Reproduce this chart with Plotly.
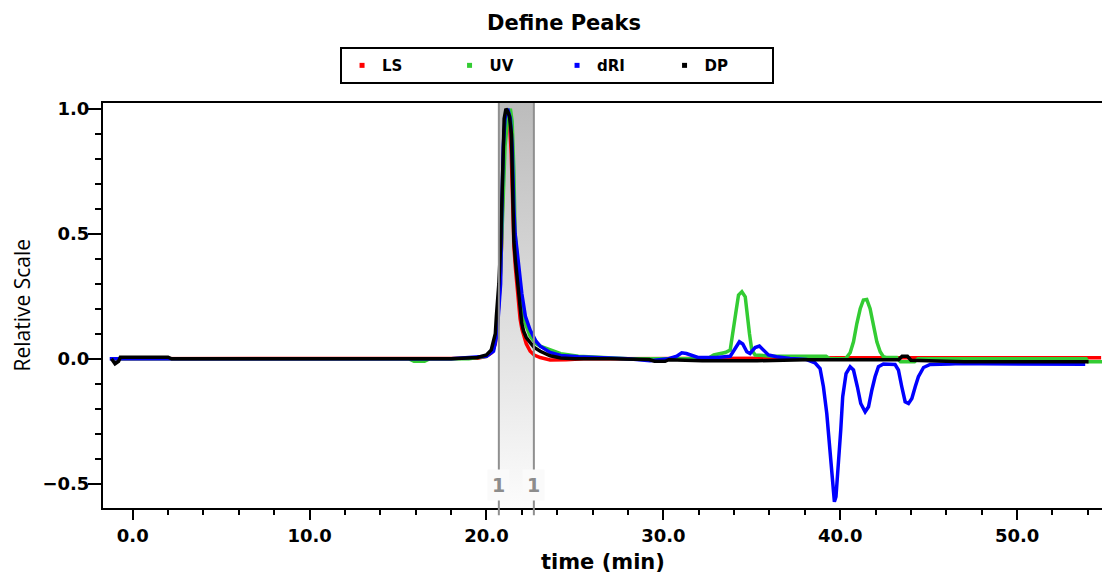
import plotly.graph_objects as go

# ---------------- data ----------------
ls_t = [-1.0, 2.0, 6.0, 10.0, 14.0, 18.0, 19.5, 20.0, 20.3, 20.5, 20.6, 20.75, 20.85, 20.93, 21.0,
        21.1, 21.2, 21.3, 21.4, 21.5, 21.55, 21.64, 21.8, 21.9, 22.0, 22.1, 22.25, 22.47, 22.7, 23.04,
        23.6, 24.5, 25.5, 27.0, 30.0, 33.0, 34.3, 36.0, 38.0, 40.0, 42.0, 44.0, 46.0, 48.0, 50.0, 52.0, 54.75]
ls_v = [0.0, 0.0, 0.0, 0.0, 0.0, 0.0, 0.002, 0.01, 0.025, 0.06, 0.12, 0.28, 0.45, 0.7, 0.9,
        0.98, 0.99, 0.95, 0.82, 0.58, 0.45, 0.36, 0.22, 0.16, 0.12, 0.09, 0.06, 0.03, 0.015, 0.005,
        -0.005, -0.004, 0.0, 0.0, 0.0, 0.0, 0.003, 0.003, 0.003, 0.004, 0.004, 0.004, 0.004, 0.004, 0.004, 0.004, 0.004]

uv_t = [-1.0, 4.0, 10.0, 15.6, 15.9, 16.5, 16.8, 19.0, 20.0, 20.4, 20.6, 20.8, 20.95, 21.05, 21.2,
        21.35, 21.45, 21.55, 21.62, 21.75, 21.9, 22.0, 22.2, 22.47, 22.8, 23.04, 23.6, 24.2, 25.2, 26.5,
        28.0, 30.0, 32.5, 32.85, 33.5, 33.78, 33.97, 34.12, 34.25, 34.44, 34.63, 34.72, 34.87, 35.0, 35.19,
        36.2, 39.2, 39.4, 40.3, 40.56, 40.75, 40.94, 41.13, 41.31, 41.5, 41.69, 41.88, 42.07, 42.26, 42.44,
        42.6, 43.2, 43.4, 44.2, 44.4, 47.0, 50.0, 53.9, 54.0, 54.8]
uv_v = [0.0, 0.0, 0.0, 0.0, -0.01, -0.01, 0.0, 0.0, 0.01, 0.04, 0.12, 0.35, 0.65, 0.85, 0.96,
        1.0, 0.95, 0.75, 0.5, 0.38, 0.27, 0.21, 0.14, 0.09, 0.06, 0.05, 0.034, 0.02, 0.01, 0.004,
        0.0, 0.0, 0.0, 0.015, 0.025, 0.035, 0.115, 0.195, 0.255, 0.268, 0.248, 0.18, 0.1, 0.035, 0.015,
        0.01, 0.01, 0.0, 0.0, 0.024, 0.068, 0.141, 0.2, 0.235, 0.237, 0.2, 0.128, 0.068, 0.028, 0.008,
        0.005, 0.005, -0.012, -0.012, 0.0, 0.0, 0.0, 0.0, -0.012, -0.012]

dri_t = [-1.3, 0.3, 5.0, 10.0, 12.8, 15.5, 18.0, 20.0, 20.4, 20.6, 20.8, 20.87, 20.95, 21.05, 21.2,
         21.35, 21.45, 21.55, 21.62, 21.75, 21.9, 22.0, 22.2, 22.47, 22.8, 23.04, 23.6, 24.2, 25.2, 26.5,
         28.0, 29.25, 30.3, 30.76, 31.04, 31.3, 31.68, 31.96, 33.0, 33.78, 34.06, 34.3, 34.49, 34.72, 34.9,
         35.19, 35.43, 35.66, 35.94, 36.4, 37.16, 38.1, 38.57, 38.86, 39.05, 39.24, 39.42, 39.57, 39.67, 39.76,
         39.9, 40.03, 40.14, 40.33, 40.56, 40.75, 40.97, 41.16, 41.41, 41.6, 41.79, 41.97, 42.16, 42.44, 43.1,
         43.29, 43.48, 43.67, 43.86, 44.05, 44.24, 44.42, 44.71, 45.08, 46.21, 46.78, 48.0, 50.0, 52.0, 53.85]
dri_v = [0.0, 0.0, 0.0, 0.0, 0.003, 0.003, 0.0, 0.01, 0.03, 0.1, 0.3, 0.6, 0.85, 0.96, 1.0,
         0.96, 0.85, 0.6, 0.5, 0.42, 0.32, 0.26, 0.17, 0.115, 0.07, 0.05, 0.025, 0.013, 0.008, 0.004,
         0.0, -0.008, 0.0, 0.01, 0.024, 0.021, 0.01, 0.005, 0.005, 0.01, 0.041, 0.068, 0.059, 0.028, 0.021,
         0.045, 0.051, 0.035, 0.015, 0.008, 0.001, -0.003, -0.016, -0.039, -0.112, -0.219, -0.352, -0.499, -0.572, -0.552,
         -0.432, -0.285, -0.152, -0.059, -0.032, -0.045, -0.112, -0.179, -0.212, -0.192, -0.125, -0.072, -0.032, -0.021, -0.023,
         -0.045, -0.112, -0.172, -0.179, -0.159, -0.112, -0.072, -0.035, -0.023, -0.021, -0.019, -0.02, -0.02, -0.022, -0.022]

dp_t = [-1.2, -1.0, -0.8, -0.7, 2.0, 2.2, 6.0, 10.0, 14.0, 18.0, 19.5, 19.9, 20.0, 20.27, 20.42,
        20.5, 20.56, 20.7, 20.8, 20.87, 20.93, 21.0, 21.1, 21.2, 21.3, 21.41, 21.5, 21.55, 21.64, 21.8,
        21.9, 22.0, 22.1, 22.25, 22.47, 22.7, 23.04, 23.6, 24.2, 25.0, 27.0, 29.2, 29.5, 30.1, 30.3,
        32.2, 35.3, 38.0, 43.3, 43.5, 43.8, 44.0, 46.0, 47.0, 50.0, 54.04]
dp_v = [0.0, -0.02, -0.01, 0.006, 0.006, 0.0, 0.0, 0.0, 0.0, 0.0, 0.005, 0.012, 0.015, 0.035, 0.075,
        0.1, 0.17, 0.3, 0.45, 0.65, 0.85, 0.96, 1.0, 0.99, 0.97, 0.9, 0.62, 0.47, 0.39, 0.27,
        0.19, 0.14, 0.11, 0.085, 0.065, 0.045, 0.03, 0.012, 0.003, 0.0, 0.0, -0.003, -0.01, -0.01, -0.004,
        -0.008, -0.008, -0.004, -0.004, 0.01, 0.01, -0.006, -0.01, -0.012, -0.012, -0.012]

series_names = ["LS", "UV", "dRI", "DP"]
series_colors = ["#ff0000", "#33cc33", "#0000ff", "#000000"]
series_t = [ls_t, uv_t, dri_t, dp_t]
series_v = [ls_v, uv_v, dri_v, dp_v]

peak_bounds = [20.70, 22.68]     # defined peak region (min)
peak_labels = ["1", "1"]

x_range = [-1.68, 54.8]
y_range = [-0.597, 1.023]

for a, b in zip(series_t, series_v):
    assert len(a) == len(b), (len(a), len(b))

# ---------------- figure ----------------
fig = go.Figure()

# shaded peak region with a vertical gradient
fig.add_trace(go.Scatter(
    x=[peak_bounds[0], peak_bounds[1], peak_bounds[1], peak_bounds[0], peak_bounds[0]],
    y=[y_range[0], y_range[0], y_range[1], y_range[1], y_range[0]],
    mode="lines", line=dict(width=0), fill="toself",
    fillgradient=dict(type="vertical",
                      colorscale=[[0, "#fcfcfc"], [1, "#bcbcbc"]]),
    hoverinfo="skip", showlegend=False))

for name, col, t, v in zip(series_names, series_colors, series_t, series_v):
    fig.add_trace(go.Scatter(x=t, y=v, mode="lines", name=name,
                             line=dict(color=col, width=3.5),
                             showlegend=False))

# legend-only entries (small square markers)
for name, col in zip(series_names, series_colors):
    fig.add_trace(go.Scatter(x=[None], y=[None], mode="markers", name=name,
                             marker=dict(symbol="square", size=5, color=col)))

# region boundary lines
for xb in peak_bounds:
    fig.add_shape(type="line", xref="x", yref="paper", x0=xb, x1=xb, y0=-0.018, y1=1,
                  line=dict(color="#8f8f8f", width=2), layer="above")

for xb, lab in zip(peak_bounds, peak_labels):
    fig.add_annotation(x=xb, y=-0.505, xref="x", yref="y", text=lab, showarrow=False,
                       font=dict(family="DejaVu Sans", size=19, color="#8c8c8c", weight="bold"),
                       bgcolor="#fafafa", borderpad=4)

tickfont = dict(family="DejaVu Sans", size=18, color="black", weight="bold")

fig.update_xaxes(range=x_range, tick0=0, dtick=10, tickformat=".1f",
                 ticks="outside", ticklen=10, tickwidth=2, tickcolor="black",
                 showline=True, linewidth=2, linecolor="black", mirror=True,
                 showgrid=False, zeroline=False, tickfont=tickfont,
                 minor=dict(dtick=2, ticklen=5, tickwidth=1.5, tickcolor="black",
                            ticks="outside", showgrid=False))
fig.update_yaxes(range=y_range, tick0=0, dtick=0.5, tickformat=".1f",
                 ticks="outside", ticklen=13, tickwidth=2, tickcolor="black",
                 showline=True, linewidth=2, linecolor="black", mirror=False,
                 showgrid=False, zeroline=False, tickfont=tickfont,
                 ticklabelstandoff=-5,
                 minor=dict(dtick=0.1, ticklen=6, tickwidth=1.5, tickcolor="black",
                            ticks="outside", showgrid=False))

# axis titles as annotations for precise placement
fig.add_annotation(text="time (min)", x=0.5, y=-0.133, xref="paper", yref="paper",
                   showarrow=False, yanchor="middle",
                   font=dict(family="DejaVu Sans", size=21, color="black", weight="bold"))
fig.add_annotation(text="Relative Scale", x=-0.0806, y=0.501, xref="paper", yref="paper",
                   showarrow=False, textangle=-90, xanchor="center", yanchor="middle",
                   font=dict(family="Open Sans", size=21, color="black"))

fig.update_layout(
    width=1102, height=573,
    margin=dict(l=103, r=0, t=103, b=65),
    paper_bgcolor="white", plot_bgcolor="white",
    title=dict(text="Define Peaks", x=564 / 1102, xanchor="center",
               y=1 - 22.5 / 573, yanchor="middle", yref="container",
               font=dict(family="DejaVu Sans", size=21, color="black", weight="bold")),
    legend=dict(orientation="h", x=0.4545, xanchor="center", y=1.138, yanchor="top",
                bordercolor="black", borderwidth=2, bgcolor="white",
                font=dict(family="DejaVu Sans", size=15, color="black", weight="bold"),
                itemwidth=30, entrywidth=62.5, entrywidthmode="pixels",
                itemclick=False),
    showlegend=True,
)

fig.write_html("out.html", config={"displayModeBar": False},
               post_script="document.body.style.margin='0';")
